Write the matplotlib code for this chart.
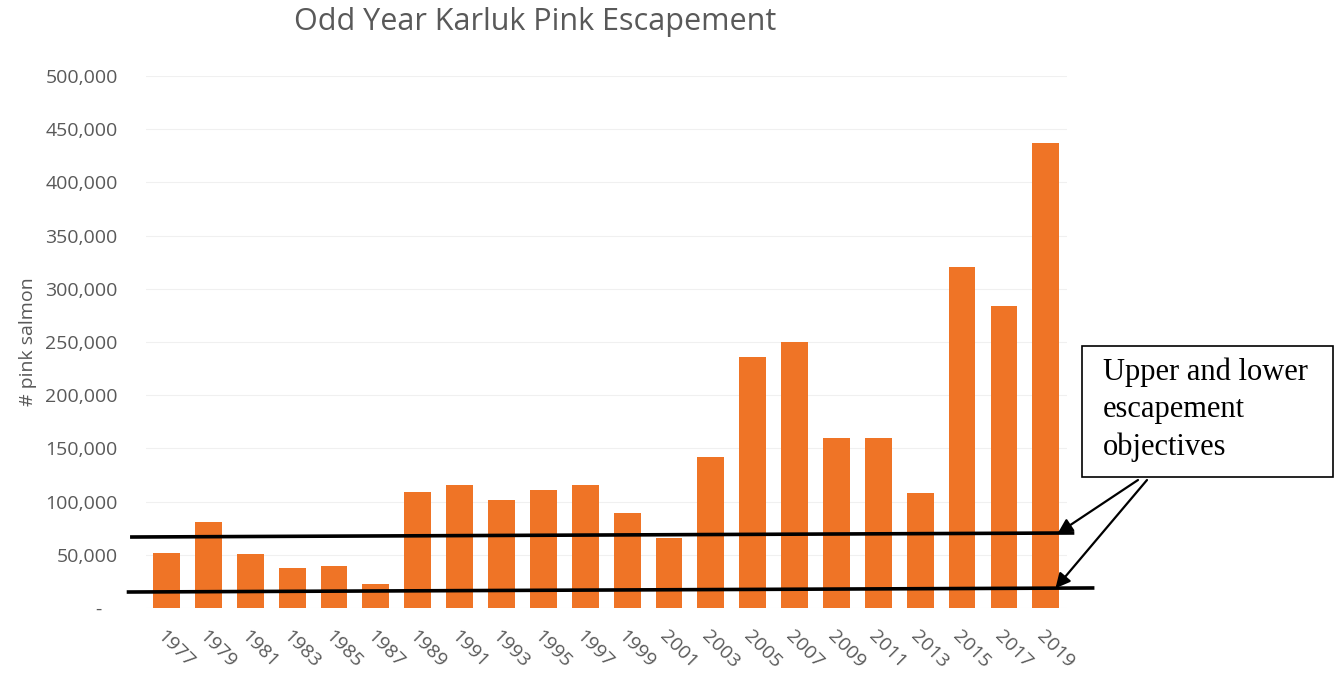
#! /usr/bin/env python3

"""
Odd year Karluk pink salmon escapement, bar chart with escapement objectives.
"""

import matplotlib
matplotlib.use('Agg')
import matplotlib.pyplot as plt
from matplotlib.patches import Rectangle
from matplotlib.ticker import FuncFormatter

YEARS = ['1977', '1979', '1981', '1983', '1985', '1987', '1989', '1991',
         '1993', '1995', '1997', '1999', '2001', '2003', '2005', '2007',
         '2009', '2011', '2013', '2015', '2017', '2019']

ESCAPEMENT = [51700, 80800, 50700, 37600, 39500, 22600, 109000, 115600,
              101500, 111000, 115800, 89500, 66000, 141500, 235500, 250000,
              159500, 159500, 108000, 320500, 284000, 437000]

# objective lines as drawn on the scanned chart (slightly tilted), start / end
UPPER_OBJECTIVE = [66700, 70500]
LOWER_OBJECTIVE = [15000, 18800]
LINE_X = [(-0.87, 21.68), (-0.95, 22.16)]

TITLE = "Odd Year Karluk Pink Escapement"
NOTE = "Upper and lower\nescapement\nobjectives"

GREY = '#595959'
ORANGE = '#EF7426'
W, H = 1339, 675


def fmt_y(v, _pos):
    """Excel accounting style: dash for zero"""
    return '-   ' if v == 0 else f'{v:,.0f}'


def main() -> None:
    fig = plt.figure(figsize=(W / 100, H / 100), dpi=100)
    ax = fig.add_axes([0.1087, 0.0993, 0.688, 0.788])

    x = range(len(YEARS))
    ax.bar(x, ESCAPEMENT, width=0.64, color=ORANGE, zorder=2)

    ax.set_xlim(-0.5, len(YEARS) - 0.5)
    ax.set_ylim(0, 500000)
    ax.set_yticks(range(0, 500001, 50000))
    ax.yaxis.set_major_formatter(FuncFormatter(fmt_y))
    ax.grid(axis='y', color='#f0f0f0', lw=0.8, zorder=0)

    for s in ax.spines.values():
        s.set_visible(False)
    ax.tick_params(length=0, labelsize=14, labelcolor=GREY)
    ax.tick_params(axis='y', pad=20)
    ax.tick_params(axis='x', pad=14)

    ax.set_xticks(list(x))
    ax.set_xticklabels(YEARS, rotation=-45, ha='left', va='top',
                       rotation_mode='anchor', fontsize=14, color=GREY)
    for lab in ax.get_xticklabels() + ax.get_yticklabels():
        lab.set_fontfamily('Open Sans')

    ax.set_ylabel('# pink salmon', fontsize=14, color=GREY,
                  fontfamily='Open Sans', labelpad=6)

    fig.text(535 / W, 1 - 22 / H, TITLE, ha='center', va='center', fontsize=22,
             color=GREY, fontfamily='Open Sans')

    # objective lines
    for (x0, x1), yy in zip(LINE_X, [UPPER_OBJECTIVE, LOWER_OBJECTIVE]):
        ax.plot([x0, x1], yy, color='black', lw=2.6, clip_on=False, zorder=3,
                solid_capstyle='butt')

    # note box
    fig.patches.append(Rectangle((1082 / W, 1 - 477 / H), 251 / W, 131 / H,
                                 transform=fig.transFigure, fc='white',
                                 ec='black', lw=1.2))
    fig.text(1103 / W, 1 - 410 / H, NOTE, ha='left', va='center', fontsize=22,
             fontfamily='Liberation Serif', linespacing=1.36)

    starts = [(1138 / W, 1 - 480 / H), (1147 / W, 1 - 480 / H)]
    heads = [(21.28, 70000), (21.23, 18500)]
    for s, h in zip(starts, heads):
        ax.annotate('', xy=h, xycoords='data', xytext=s,
                    textcoords='figure fraction',
                    arrowprops=dict(arrowstyle='-|>', color='black', lw=1.6,
                                    mutation_scale=22, shrinkA=0, shrinkB=0))

    fig.savefig('out.png')


if __name__ == '__main__':
    main()
